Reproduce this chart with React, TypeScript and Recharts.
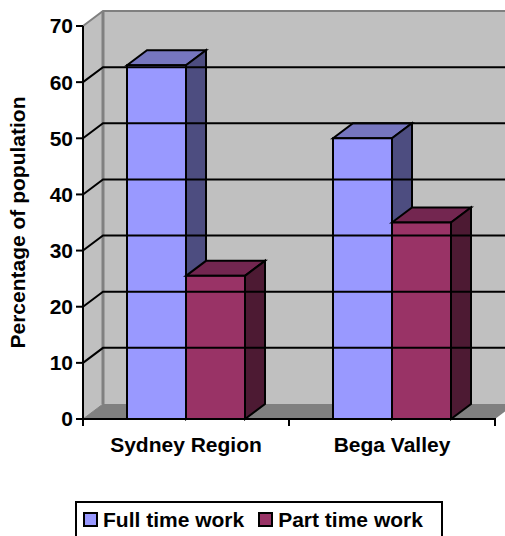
import { Bar, BarChart, Legend, ReferenceArea, ReferenceLine, XAxis, YAxis } from 'recharts';

const regions = ['Sydney Region', 'Bega Valley'];
const fullTime = [63, 50];
const partTime = [25.5, 35];
const valueTicks = [0, 10, 20, 30, 40, 50, 60, 70];
const wallLines = [10, 20, 30, 40, 50, 60];

const seriesNames = ['Full time work', 'Part time work'];
const seriesColors = ['#9999FF', '#993366'];
const topColors = ['#7676BF', '#732650'];
const sideColors = ['#4D4D80', '#4D1A33'];

const WIDTH = 505;
const HEIGHT = 536;
const LEFT_AXIS = 83;
const RIGHT = 10;
const BAND = (WIDTH - LEFT_AXIS - RIGHT) / regions.length;
// depth of the 3D projection
const DX = 20;
const DY = 15;
const FONT = '"Liberation Sans", Arial, sans-serif';

const points = (...p: number[][]) => p.map((q) => q.join(',')).join(' ');

// side wall, back wall and floor behind the bars
const Room = ({ x, y, width, height }: any) => (
    <g>
        <polygon points={points([x, y], [x + DX, y - DY], [x + DX, y + height - DY], [x, y + height])} fill="#C0C0C0" />
        <rect x={x + DX} y={y - DY} width={width} height={height} fill="#C0C0C0" />
        <polygon
            points={points([x, y + height], [x + DX, y + height - DY], [x + width + DX, y + height - DY], [x + width, y + height])}
            fill="#808080"
        />
        <polyline
            points={points([x, y], [x + DX, y - DY], [x + width + DX, y - DY])}
            fill="none"
            stroke="#808080"
            strokeWidth={2}
        />
        <line x1={x + DX} y1={y - DY} x2={x + DX} y2={y + height - DY} stroke="#808080" strokeWidth={3} />
        <line x1={x} y1={y + height} x2={x + DX} y2={y + height - DY} stroke="#808080" strokeWidth={1} />
    </g>
);

// wraps a horizontal grid line from the front axis onto the back wall
const WallLine = ({ x1, x2, y1 }: any) => (
    <polyline
        points={points([x1, y1], [x1 + DX, y1 - DY], [x2 + DX, y1 - DY])}
        fill="none"
        stroke="#000"
        strokeWidth={2}
    />
);

const Block = ({ x, y, width, height, index }: any) => (
    <g stroke="#000" strokeWidth={2} strokeLinejoin="miter">
        <polygon
            points={points([x, y], [x + DX, y - DY], [x + width + DX, y - DY], [x + width, y])}
            fill={topColors[index]}
        />
        <polygon
            points={points([x + width, y], [x + width + DX, y - DY], [x + width + DX, y + height - DY], [x + width, y + height])}
            fill={sideColors[index]}
        />
        <rect x={x} y={y} width={width} height={height} fill={seriesColors[index]} />
    </g>
);

const CategoryTick = ({ x, y, payload }: any) => (
    <g>
        <line x1={x - BAND / 2} y1={y - 9} x2={x - BAND / 2} y2={y - 1} stroke="#000" strokeWidth={2} />
        <line x1={x + BAND / 2} y1={y - 9} x2={x + BAND / 2} y2={y - 1} stroke="#000" strokeWidth={2} />
        <text x={x} y={y + 25} textAnchor="middle" fontFamily={FONT} fontWeight="bold" fontSize={21} fill="#000">
            {payload.value}
        </text>
    </g>
);

// the box runs off the bottom of the page, so it has no lower border
const LegendBox = () => (
    <div
        style={{
            width: 364,
            height: 33,
            borderTop: '2px solid #000',
            borderLeft: '2px solid #000',
            borderRight: '2px solid #000',
            display: 'flex',
            alignItems: 'center',
            fontFamily: FONT,
            fontWeight: 'bold',
            fontSize: 21,
            color: '#000',
            background: '#fff',
        }}
    >
        {seriesNames.map((name, i) => (
            <span key={name} style={{ display: 'flex', alignItems: 'center', marginLeft: i === 0 ? 6 : 14 }}>
                <span
                    style={{
                        width: 11,
                        height: 11,
                        border: '2px solid #000',
                        background: seriesColors[i],
                        marginRight: 5,
                    }}
                />
                {name}
            </span>
        ))}
    </div>
);

const App = () => {
    const table = regions.map((region, i) => ({ region, full: fullTime[i], part: partTime[i] }));

    return (
        <div style={{ position: 'absolute', left: 0, top: 0, width: WIDTH, height: HEIGHT, overflow: 'hidden' }}>
            <BarChart
                width={WIDTH}
                height={HEIGHT}
                data={table}
                margin={{ top: 26, right: RIGHT, bottom: 0, left: 0 }}
                barSize={59}
                barGap={0}
            >
                <ReferenceArea y1={0} y2={70} ifOverflow="visible" shape={<Room />} />
                {wallLines.map((v) => (
                    <ReferenceLine key={v} y={v} ifOverflow="visible" shape={<WallLine />} />
                ))}
                <Bar dataKey="full" name={seriesNames[0]} shape={(p: any) => <Block {...p} index={0} />} isAnimationActive={false} />
                <Bar dataKey="part" name={seriesNames[1]} shape={(p: any) => <Block {...p} index={1} />} isAnimationActive={false} />
                <XAxis
                    dataKey="region"
                    height={82}
                    stroke="#000"
                    strokeWidth={2}
                    tickLine={false}
                    interval={0}
                    tick={<CategoryTick />}
                />
                <YAxis
                    width={LEFT_AXIS}
                    domain={[0, 70]}
                    ticks={valueTicks}
                    stroke="#000"
                    strokeWidth={2}
                    tickSize={7}
                    tickMargin={3}
                    tick={{ fontFamily: FONT, fontWeight: 'bold', fontSize: 21, fill: '#000' }}
                    label={{
                        value: 'Percentage of population',
                        angle: -90,
                        position: 'insideLeft',
                        offset: 18,
                        style: { fontFamily: FONT, fontWeight: 'bold', fontSize: 21, fill: '#000', textAnchor: 'middle' },
                    }}
                />
                <Legend content={<LegendBox />} wrapperStyle={{ left: 75, top: 501, width: 368, bottom: 'auto' }} />
            </BarChart>
        </div>
    );
};

export default App;
